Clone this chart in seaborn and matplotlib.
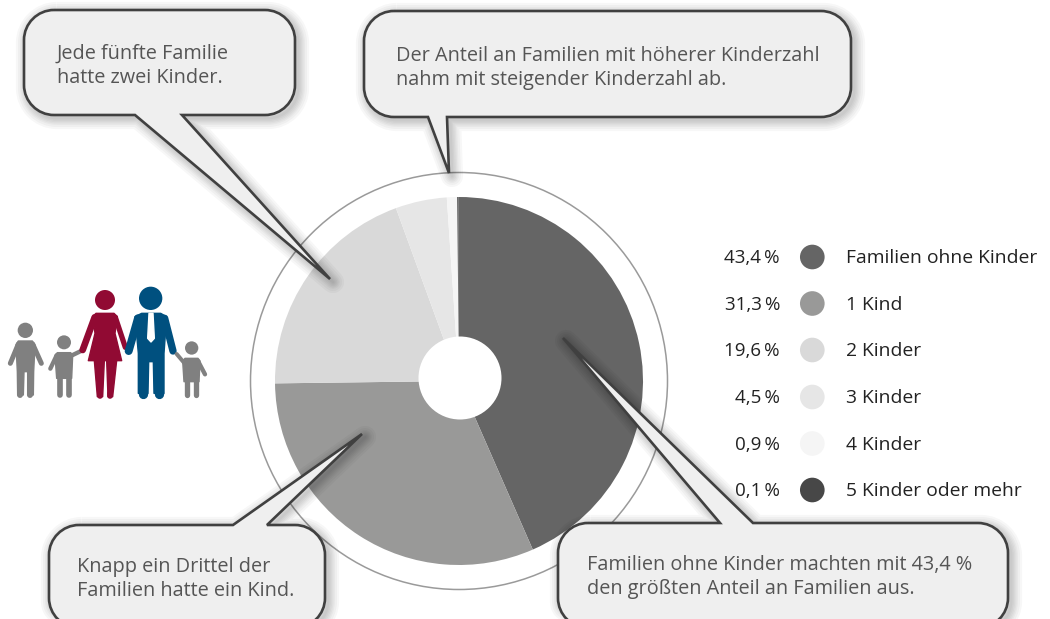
import matplotlib
matplotlib.use("Agg")
import matplotlib.pyplot as plt
import seaborn as sns
import pandas as pd
from matplotlib.path import Path
from matplotlib.patches import PathPatch, Circle, Polygon

# Data
categories = ["Familien ohne Kinder", "1 Kind", "2 Kinder", "3 Kinder", "4 Kinder", "5 Kinder oder mehr"]
shares = [43.4, 31.3, 19.6, 4.5, 0.9, 0.1]
colors = ["#656565", "#999998", "#d9d9d9", "#e6e6e6", "#f5f5f5", "#474747"]

sns.set_theme(style="white")
plt.rcParams["font.family"] = ["Open Sans", "DejaVu Sans"]

W, H = 1050, 619
fig = plt.figure(figsize=(W / 100, H / 100), dpi=100)

CX, CY, R = 459, 381, 184
BOX = "#efefef"
EDGE = "#404040"
TXT = "#555555"

# Pie in its own axes
pie_ax = fig.add_axes([(CX - R) / W, 1 - (CY + R) / H, 2 * R / W, 2 * R / H], zorder=2)
pie_ax.pie(shares, colors=colors, startangle=90.2, counterclock=False, radius=1,
           wedgeprops={"linewidth": 0})
pie_ax.set_xlim(-1, 1)
pie_ax.set_ylim(-1, 1)
pie_ax.axis("off")

# Background with ring, overlay in pixel coordinates
bg = fig.add_axes([0, 0, 1, 1], zorder=1)
bg.set_xlim(0, W)
bg.set_ylim(H, 0)
bg.axis("off")
bg.add_patch(Circle((CX, CY), 208.5, fc="white", ec="#9a9a9a", lw=1.1))

ax = fig.add_axes([0, 0, 1, 1], zorder=3)
ax.set_xlim(0, W)
ax.set_ylim(H, 0)
ax.axis("off")
ax.patch.set_alpha(0)
ax.add_patch(Circle((460, 378), 41.5, fc="white", ec="none"))


def callout(x0, y0, x1, y1, r, base_a, tip, base_b, side):
    # rounded box, the tail sits on the top or bottom side
    k = 0.45 * r
    v = [(x0 + r, y0)]
    c = [Path.MOVETO]
    if side == "top":
        v += [(base_a, y0), tip, (base_b, y0)]
        c += [Path.LINETO] * 3
    v += [(x1 - r, y0), (x1 - k, y0), (x1, y0 + k), (x1, y0 + r),
          (x1, y1 - r), (x1, y1 - k), (x1 - k, y1), (x1 - r, y1)]
    c += [Path.LINETO, Path.CURVE4, Path.CURVE4, Path.CURVE4] * 2
    if side == "bottom":
        v += [(base_b, y1), tip, (base_a, y1)]
        c += [Path.LINETO] * 3
    v += [(x0 + r, y1), (x0 + k, y1), (x0, y1 - k), (x0, y1 - r),
          (x0, y0 + r), (x0, y0 + k), (x0 + k, y0), (x0 + r, y0)]
    c += [Path.LINETO, Path.CURVE4, Path.CURVE4, Path.CURVE4] * 2
    p = Path(v, c)
    # soft shadow towards the lower right
    moved = Path([(a + 3, b + 3) for a, b in v], c)
    for lw in [16, 13, 10, 8, 6, 4, 2]:
        ax.add_patch(PathPatch(moved, fc="none", ec="black", lw=lw, alpha=0.03, joinstyle="round"))
    ax.add_patch(PathPatch(p, fc=BOX, ec=EDGE, lw=1.9, joinstyle="miter"))


callout(24, 10, 295, 115, 30, 135, (330, 279), 182, "bottom")
callout(364, 11, 851, 117, 30, 428, (449, 173), 447, "bottom")
callout(49, 525, 325, 628, 30, 233, (362, 434), 267, "top")
callout(558, 523, 1008, 628, 30, 720, (563, 338), 753, "top")

notes = [
    (57, 54, "Jede fünfte Familie"), (57, 78, "hatte zwei Kinder."),
    (396, 56, "Der Anteil an Familien mit höherer Kinderzahl"),
    (396, 80, "nahm mit steigender Kinderzahl ab."),
    (77, 567, "Knapp ein Drittel der"), (77, 591, "Familien hatte ein Kind."),
    (587, 565, "Familien ohne Kinder machten mit 43,4 %"),
    (587, 589, "den größten Anteil an Familien aus."),
]
for x, y, s in notes:
    ax.text(x, y, s, fontsize=14.3, color=TXT, va="center", ha="left")

# Legend
dot_y = [257, 303.5, 350, 397, 443.5, 490]
legend = pd.DataFrame({"x": 812.3, "y": dot_y, "kat": categories})
sns.scatterplot(data=legend, x="x", y="y", hue="kat", palette=colors, hue_order=categories,
                s=315, linewidth=0, legend=False, ax=ax)
ax.set_xlim(0, W)
ax.set_ylim(H, 0)
for y, v, k in zip(dot_y, shares, categories):
    ax.text(780, y + 1, f"{v:.1f}".replace(".", ",") + "\u2009%", fontsize=13.5, color="#222222",
            ha="right", va="center")
    ax.text(846, y + 1, k, fontsize=13.85, color="#222222", ha="left", va="center")


# Family icon, coordinates in the 3x crop of the icon
def z(x, y):
    return x / 3, 270 + y / 3


def limb(a, b, w, color):
    (x1, y1), (x2, y2) = z(*a), z(*b)
    ax.plot([x1, x2], [y1, y2], color=color, lw=w * 0.72 / 3, solid_capstyle="round")


def body(points, color):
    ax.add_patch(Polygon([z(*q) for q in points], closed=True, fc=color, ec=color, lw=1, joinstyle="round"))


def head(x, y, r, color):
    ax.add_patch(Circle(z(x, y), r / 3, fc=color, ec="none"))


GRAY = "#808080"
RED = "#910a33"
BLUE = "#00507f"

# left kid
head(76, 181, 23, GRAY)
body([(55, 213), (97, 213), (105, 225), (101, 305), (100, 375), (83, 375), (83, 305), (72, 305), (70, 375), (53, 375), (52, 305), (48, 225)], GRAY)
limb((55, 222), (31, 280), 15, GRAY)
limb((98, 222), (124, 280), 15, GRAY)
limb((61, 305), (61, 374), 18, GRAY)
limb((91, 305), (91, 374), 18, GRAY)

# second kid
head(192, 217, 21, GRAY)
body([(172, 248), (212, 248), (218, 256), (215, 325), (170, 325), (165, 256)], GRAY)
limb((170, 256), (151, 296), 13, GRAY)
limb((212, 258), (243, 243), 13, GRAY)
limb((179, 320), (179, 375), 17, GRAY)
limb((207, 320), (207, 375), 17, GRAY)

# woman
head(315, 90, 30, RED)
body([(288, 130), (342, 130), (352, 140), (345, 190), (365, 272), (265, 272), (285, 190), (278, 140)], RED)
limb((284, 142), (248, 240), 20, RED)
limb((346, 142), (376, 232), 16, RED)
body([(283, 272), (313, 272), (308, 380), (292, 380)], RED)
body([(320, 272), (350, 272), (338, 380), (324, 380)], RED)
limb((300, 370), (300, 378), 17, RED)
limb((331, 370), (331, 378), 17, RED)

# man
head(452, 85, 35, BLUE)
body([(425, 130), (482, 130), (500, 140), (492, 250), (492, 370), (462, 370), (460, 275), (446, 275), (444, 370), (415, 370), (415, 250), (405, 140)], BLUE)
limb((414, 145), (386, 243), 24, BLUE)
limb((494, 145), (519, 243), 22, BLUE)
limb((429, 370), (429, 372), 28, BLUE)
limb((477, 370), (477, 372), 28, BLUE)
body([(447, 130), (459, 130), (463, 205), (453, 216), (443, 205)], "white")

# right kid
head(575, 234, 20, GRAY)
body([(555, 265), (594, 265), (600, 273), (597, 335), (552, 335), (548, 273)], GRAY)
limb((594, 273), (615, 313), 13, GRAY)
limb((552, 278), (530, 252), 12, GRAY)
limb((560, 330), (560, 376), 16, GRAY)
limb((587, 330), (587, 376), 16, GRAY)

fig.savefig("out.png", dpi=100, facecolor="white")
